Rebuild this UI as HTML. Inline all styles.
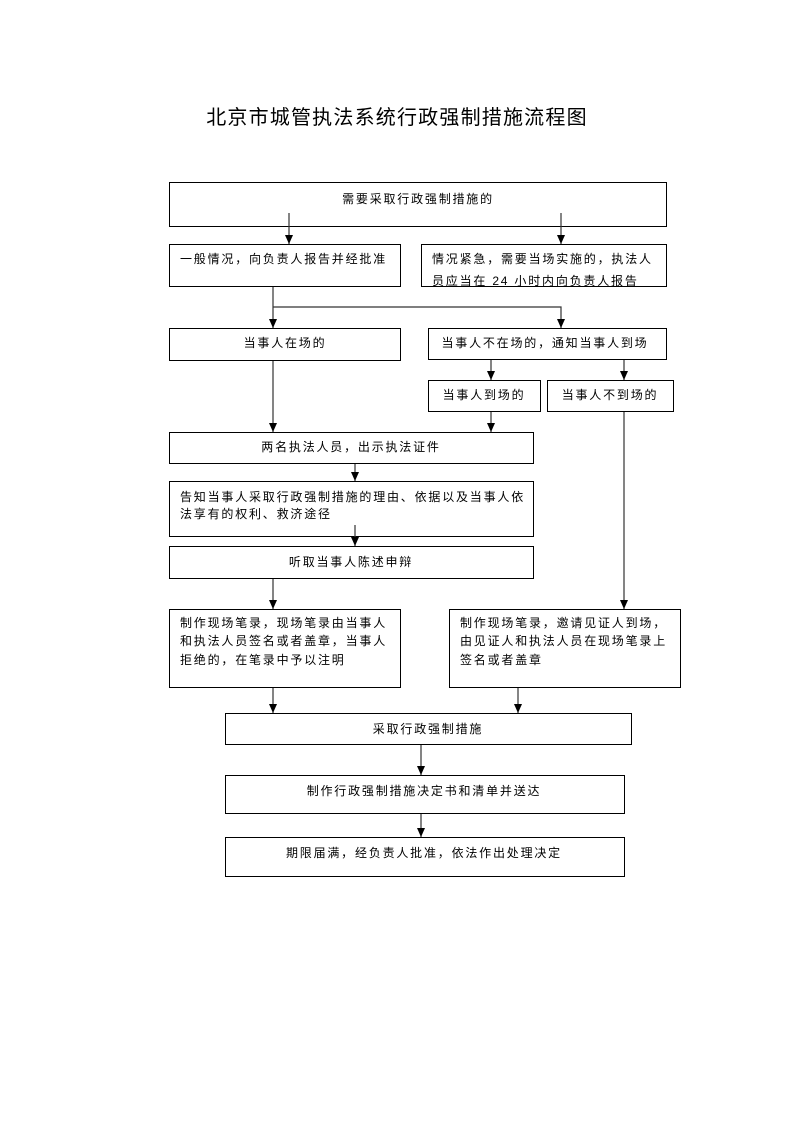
<!DOCTYPE html>
<html><head><meta charset="utf-8"><style>
html,body{margin:0;padding:0;background:#fff;width:793px;height:1122px;overflow:hidden}
svg text{font-family:"Liberation Sans","Noto Sans CJK SC",sans-serif;fill:#000}
.t{font-size:12px;letter-spacing:1.8px}
</style></head><body>
<svg width="793" height="1122" viewBox="0 0 793 1122" xmlns="http://www.w3.org/2000/svg">
<defs><marker id="a" markerWidth="9" markerHeight="9" refX="9" refY="4" orient="auto" markerUnits="userSpaceOnUse" viewBox="0 0 9 8"><path d="M0,0 L9,4 L0,8 z" fill="#000"/></marker>
<clipPath id="c"><rect x="421" y="244" width="246" height="42"/></clipPath></defs>
<text x="397" y="124" text-anchor="middle" font-size="20" letter-spacing="1.2">北京市城管执法系统行政强制措施流程图</text>
<g fill="none" stroke="#000" stroke-width="1">
<rect x="169.5" y="182.5" width="497" height="44"/>
<rect x="169.5" y="244.5" width="231" height="42"/>
<rect x="421.5" y="244.5" width="245" height="42"/>
<rect x="169.5" y="328.5" width="231" height="32"/>
<rect x="428.5" y="328.5" width="238" height="31"/>
<rect x="428.5" y="380.5" width="112" height="31"/>
<rect x="547.5" y="380.5" width="126" height="31"/>
<rect x="169.5" y="432.5" width="364" height="31"/>
<rect x="169.5" y="481.5" width="364" height="55"/>
<rect x="169.5" y="546.5" width="364" height="32"/>
<rect x="169.5" y="609.5" width="231" height="78"/>
<rect x="449.5" y="609.5" width="231" height="78"/>
<rect x="225.5" y="713.5" width="406" height="31"/>
<rect x="225.5" y="775.5" width="399" height="38"/>
<rect x="225.5" y="837.5" width="399" height="39"/>
</g>
<g stroke="#333" stroke-width="1.2" fill="none">
<line x1="289" y1="213" x2="289" y2="244" marker-end="url(#a)"/>
<line x1="561" y1="213" x2="561" y2="244" marker-end="url(#a)"/>
<line x1="273" y1="287" x2="273" y2="328" marker-end="url(#a)"/>
<polyline points="273,307 561,307 561,328" marker-end="url(#a)"/>
<line x1="491" y1="360" x2="491" y2="380" marker-end="url(#a)"/>
<line x1="624" y1="360" x2="624" y2="380" marker-end="url(#a)"/>
<line x1="273" y1="361" x2="273" y2="432" marker-end="url(#a)"/>
<line x1="491" y1="412" x2="491" y2="432" marker-end="url(#a)"/>
<line x1="624" y1="412" x2="624" y2="609" marker-end="url(#a)"/>
<line x1="355" y1="464" x2="355" y2="481" marker-end="url(#a)"/>
<line x1="355" y1="525" x2="355" y2="546" marker-end="url(#a)"/>
<line x1="273" y1="579" x2="273" y2="609" marker-end="url(#a)"/>
<line x1="273" y1="688" x2="273" y2="713" marker-end="url(#a)"/>
<line x1="518" y1="688" x2="518" y2="713" marker-end="url(#a)"/>
<line x1="421" y1="745" x2="421" y2="775" marker-end="url(#a)"/>
<line x1="421" y1="814" x2="421" y2="837" marker-end="url(#a)"/>
</g>
<g class="t">
<text x="418" y="203" text-anchor="middle">需要采取行政强制措施的</text>
<text x="180" y="263">一般情况，向负责人报告并经批准</text>
<g clip-path="url(#c)">
<text x="432" y="263">情况紧急，需要当场实施的，执法人</text>
<text x="432" y="285">员应当在 24 小时内向负责人报告</text>
</g>
<text x="285" y="347" text-anchor="middle">当事人在场的</text>
<text x="545" y="347" text-anchor="middle">当事人不在场的，通知当事人到场</text>
<text x="484" y="399" text-anchor="middle">当事人到场的</text>
<text x="610" y="399" text-anchor="middle">当事人不到场的</text>
<text x="351" y="451" text-anchor="middle">两名执法人员，出示执法证件</text>
<text x="180" y="501">告知当事人采取行政强制措施的理由、依据以及当事人依</text>
<text x="180" y="518">法享有的权利、救济途径</text>
<text x="351" y="566" text-anchor="middle">听取当事人陈述申辩</text>
<text x="180" y="627">制作现场笔录，现场笔录由当事人</text>
<text x="180" y="645">和执法人员签名或者盖章，当事人</text>
<text x="180" y="664">拒绝的，在笔录中予以注明</text>
<text x="460" y="627">制作现场笔录，邀请见证人到场，</text>
<text x="460" y="645">由见证人和执法人员在现场笔录上</text>
<text x="460" y="664">签名或者盖章</text>
<text x="428" y="733" text-anchor="middle">采取行政强制措施</text>
<text x="424" y="795" text-anchor="middle">制作行政强制措施决定书和清单并送达</text>
<text x="424" y="857" text-anchor="middle">期限届满，经负责人批准，依法作出处理决定</text>
</g>
</svg>
</body></html>
